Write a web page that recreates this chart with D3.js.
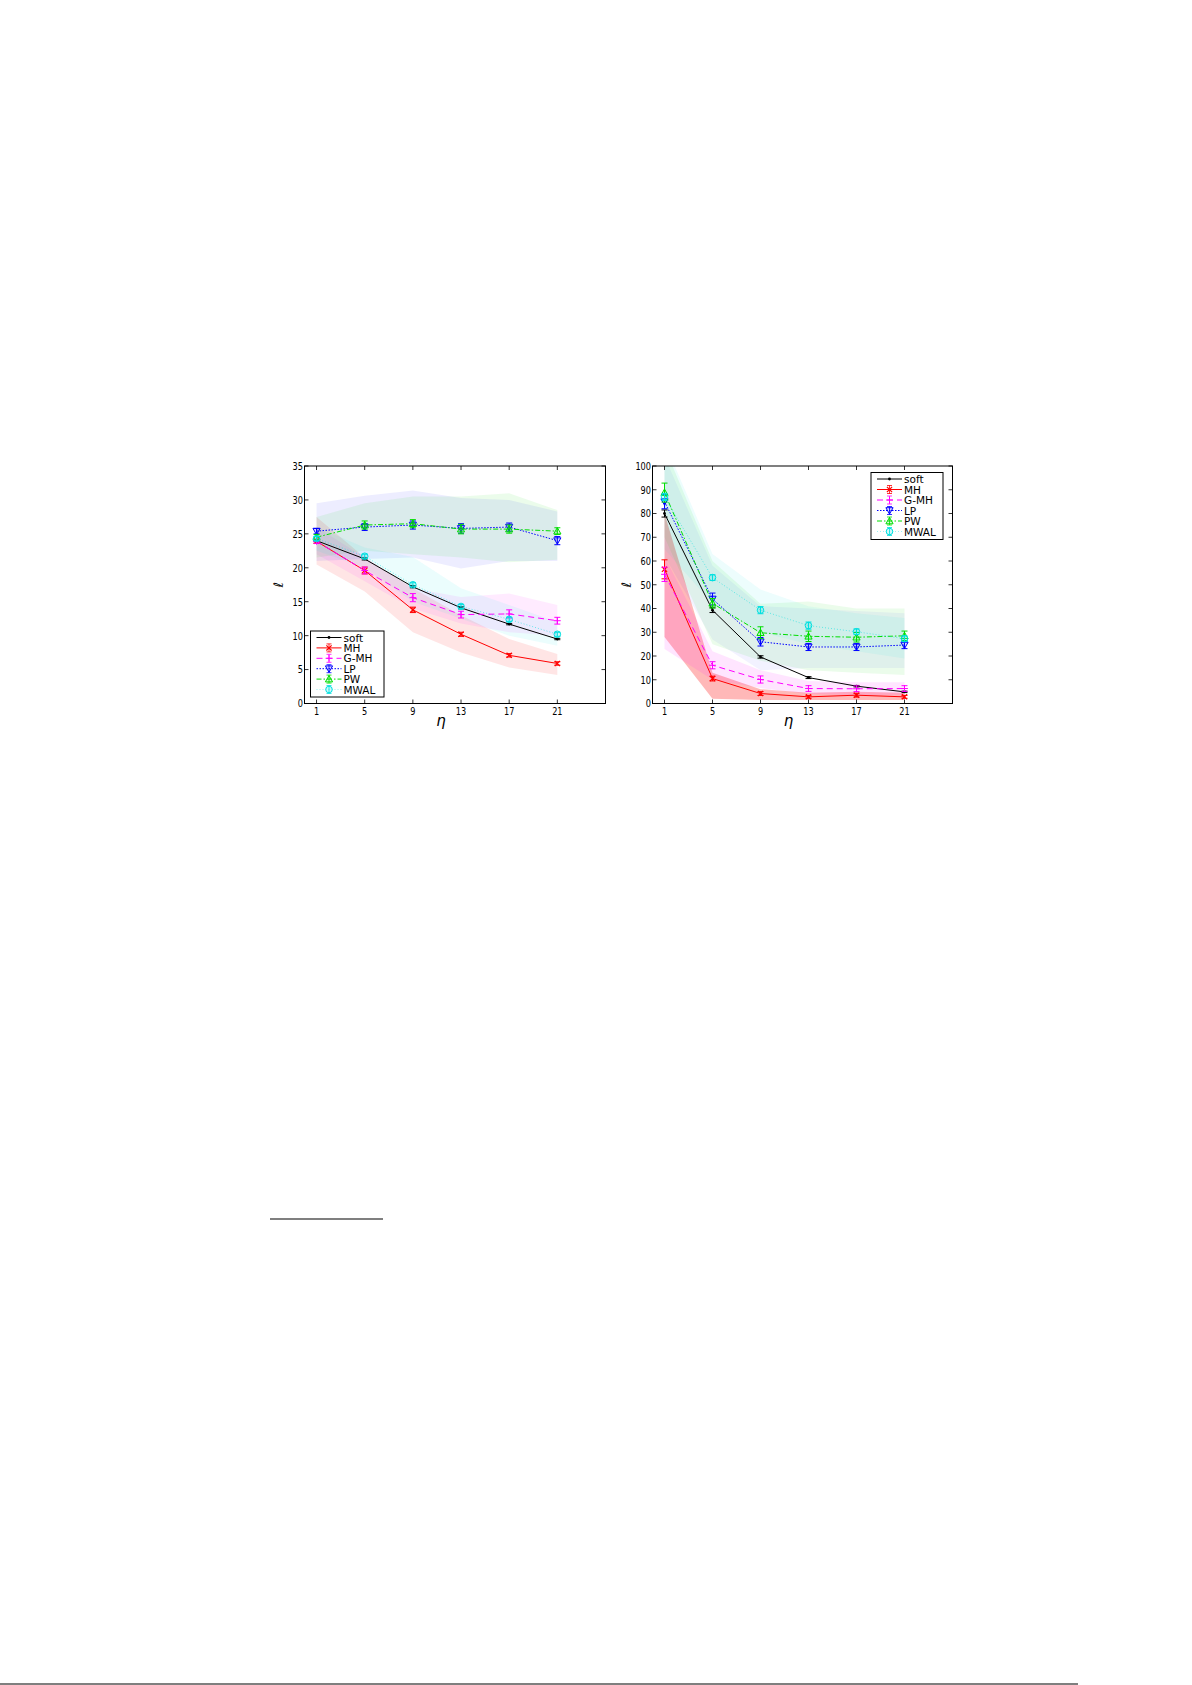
<!DOCTYPE html>
<html>
<head>
<meta charset="utf-8">
<script src="https://cdn.jsdelivr.net/npm/d3@7"></script>
<style>
  body { margin: 0; background: #fff; }
  svg { display: block; }
</style>
</head>
<body>
<div class="page"></div>
<script>
// eta values shared by both panels
const etas = [1, 5, 9, 13, 17, 21];
const seriesNames = ["soft", "MH", "G-MH", "LP", "PW", "MWAL"];
const leftYTicks = [0, 5, 10, 15, 20, 25, 30, 35];
const rightYTicks = [0, 10, 20, 30, 40, 50, 60, 70, 80, 90, 100];

// left panel: means, error bars, shaded band low / high
const leftSoft = [24.0, 21.3, 17.2, 14.1, 11.7, 9.5];
const leftSoftErr = [0.15, 0.15, 0.15, 0.15, 0.1, 0.1];
const leftMH = [23.9, 19.6, 13.8, 10.2, 7.1, 5.9];
const leftMHErr = [0.3, 0.5, 0.4, 0.3, 0.25, 0.25];
const leftMHLo = [20.5, 16.5, 10.5, 7.5, 5.3, 4.2];
const leftMHHi = [27.5, 21.5, 17.0, 13.0, 9.5, 7.3];
const leftGMH = [23.9, 19.6, 15.6, 13.1, 13.2, 12.2];
const leftGMHErr = [0.3, 0.5, 0.6, 0.5, 0.6, 0.5];
const leftGMHLo = [22.0, 18.0, 14.0, 11.8, 10.5, 10.0];
const leftGMHHi = [26.0, 21.5, 17.0, 15.7, 16.2, 14.5];
const leftLP = [25.4, 26.0, 26.3, 25.8, 26.0, 24.0];
const leftLPErr = [0.4, 0.5, 0.6, 0.7, 0.6, 0.6];
const leftLPLo = [21.0, 21.3, 21.5, 19.9, 21.0, 21.0];
const leftLPHi = [29.5, 30.6, 31.4, 30.3, 30.0, 28.3];
const leftPW = [24.5, 26.3, 26.5, 25.7, 25.7, 25.4];
const leftPWErr = [0.4, 0.6, 0.6, 0.7, 0.6, 0.5];
const leftPWLo = [21.5, 22.5, 22.0, 21.5, 20.8, 21.2];
const leftPWHi = [27.5, 29.5, 30.5, 30.5, 31.0, 28.5];
const leftMWAL = [24.3, 21.7, 17.5, 14.3, 12.4, 10.2];
const leftMWALErr = [0.3, 0.3, 0.3, 0.3, 0.3, 0.3];
const leftMWALLo = [22.5, 20.0, 15.0, 12.5, 10.0, 8.5];
const leftMWALHi = [26.0, 23.0, 21.6, 17.0, 14.5, 12.0];

// right panel
const rightSoft = [80.0, 39.3, 19.6, 10.9, 7.3, 4.9];
const rightSoftErr = [1.5, 1.0, 0.5, 0.4, 0.3, 0.3];
const rightMH = [56.5, 10.5, 4.2, 2.8, 3.5, 2.8];
const rightMHErr = [4.0, 1.0, 0.8, 0.6, 0.8, 0.6];
const rightMHLo = [28, 2, 1.5, 1.5, 1.5, 1.5];
const rightMHHi = [80, 13, 6, 4.5, 5, 4.5];
const rightGMH = [54.4, 16.1, 10.1, 6.3, 6.2, 6.3];
const rightGMHErr = [3.0, 1.5, 1.5, 1.2, 1.2, 1.2];
const rightGMHLo = [23, 10, 6.5, 4, 3.5, 3.5];
const rightGMHHi = [62, 22, 14, 9.5, 9, 9];
const rightLP = [85.0, 44.0, 26.0, 23.8, 23.8, 24.6];
const rightLPErr = [3.0, 2.5, 1.8, 1.5, 1.5, 1.5];
const rightLPLo = [62, 27, 14, 15, 15, 15];
const rightLPHi = [104, 58, 41, 40, 39, 38];
const rightPW = [88.8, 42.2, 29.8, 28.3, 27.9, 28.5];
const rightPWErr = [4.0, 2.0, 2.5, 2.2, 2.0, 2.0];
const rightPWLo = [70, 25, 18, 14, 13, 12];
const rightPWHi = [108, 60, 42, 43, 40, 40];
const rightMWAL = [87.0, 53.0, 39.3, 32.8, 30.2, 27.3];
const rightMWALErr = [1.5, 1.2, 1.5, 1.5, 1.2, 1.2];
const rightMWALLo = [65, 42, 30, 25, 22, 19];
const rightMWALHi = [110, 63, 48, 41, 38, 36];

// line / marker styles per series
const styles = [
  { color: "#000000", dash: null, marker: "dot" },
  { color: "#ff0000", dash: null, marker: "x" },
  { color: "#ff00ff", dash: "6,4", marker: "+" },
  { color: "#0000ff", dash: "1.5,1.5", marker: "v" },
  { color: "#00dd00", dash: "5,2,1.5,2", marker: "^" },
  { color: "#00e0e0", dash: "1,2", marker: "o" }
];

const buildSeries = (means, errs, los, his) =>
  seriesNames.map((name, k) => ({
    name: name,
    style: styles[k],
    points: etas.map((eta, i) => ({
      eta: eta,
      v: means[k][i],
      e: errs[k][i],
      lo: los[k] ? los[k][i] : null,
      hi: his[k] ? his[k][i] : null
    }))
  }));

const leftSeries = buildSeries(
  [leftSoft, leftMH, leftGMH, leftLP, leftPW, leftMWAL],
  [leftSoftErr, leftMHErr, leftGMHErr, leftLPErr, leftPWErr, leftMWALErr],
  [null, leftMHLo, leftGMHLo, leftLPLo, leftPWLo, leftMWALLo],
  [null, leftMHHi, leftGMHHi, leftLPHi, leftPWHi, leftMWALHi]
);
const rightSeries = buildSeries(
  [rightSoft, rightMH, rightGMH, rightLP, rightPW, rightMWAL],
  [rightSoftErr, rightMHErr, rightGMHErr, rightLPErr, rightPWErr, rightMWALErr],
  [null, rightMHLo, rightGMHLo, rightLPLo, rightPWLo, rightMWALLo],
  [null, rightMHHi, rightGMHHi, rightLPHi, rightPWHi, rightMWALHi]
);

const svg = d3
  .select(".page")
  .append("svg")
  .attr("width", 1192)
  .attr("height", 1685);

const drawMarker = (g, m, color) => {
  if (m === "dot") {
    g.append("circle").attr("r", 1.4).attr("fill", color);
  } else if (m === "x") {
    g.append("path").attr("d", "M-2.6,-2.6L2.6,2.6M-2.6,2.6L2.6,-2.6")
      .attr("stroke", color).attr("stroke-width", 1.2);
  } else if (m === "+") {
    g.append("path").attr("d", "M-3.4,0L3.4,0M0,-3.4L0,3.4")
      .attr("stroke", color).attr("stroke-width", 1);
  } else if (m === "v") {
    g.append("path").attr("d", "M-3.6,-2.8L3.6,-2.8L0,3.6Z")
      .attr("stroke", color).attr("stroke-width", 1)
      .attr("fill", color).attr("fill-opacity", 0.15);
  } else if (m === "^") {
    g.append("path").attr("d", "M-3.6,2.8L3.6,2.8L0,-3.6Z")
      .attr("stroke", color).attr("stroke-width", 1)
      .attr("fill", color).attr("fill-opacity", 0.15);
  } else if (m === "o") {
    g.append("circle").attr("r", 3.3)
      .attr("stroke", color).attr("stroke-width", 1)
      .attr("fill", color).attr("fill-opacity", 0.2);
  }
};

const tickFont = "'DejaVu Sans', sans-serif";

const drawPanel = cfg => {
  const x = d3.scaleLinear().domain([0, 25]).range([cfg.x0, cfg.x1]);
  const y = d3.scaleLinear().domain(cfg.yDomain).range([cfg.y1, cfg.y0]);
  const g = svg.append("g").attr("class", cfg.id);

  g.append("clipPath")
    .attr("id", "clip-" + cfg.id)
    .append("rect")
    .attr("x", cfg.x0)
    .attr("y", cfg.y0)
    .attr("width", cfg.x1 - cfg.x0)
    .attr("height", cfg.y1 - cfg.y0);

  const plot = g.append("g").attr("clip-path", "url(#clip-" + cfg.id + ")");

  // shaded bands
  const area = d3
    .area()
    .x(d => x(d.eta))
    .y0(d => y(d.lo))
    .y1(d => y(d.hi));
  cfg.series.forEach((s, k) => {
    if (s.points[0].lo === null) return;
    plot
      .append("path")
      .attr("d", area(s.points))
      .attr("fill", s.style.color)
      .attr("fill-opacity", cfg.bandOpacity[k]);
  });

  const line = d3
    .line()
    .x(d => x(d.eta))
    .y(d => y(d.v));

  cfg.series.forEach(s => {
    plot
      .append("path")
      .attr("d", line(s.points))
      .attr("fill", "none")
      .attr("stroke", s.style.color)
      .attr("stroke-width", s.name === "MWAL" ? 0.8 : 1)
      .attr("stroke-opacity", s.name === "MWAL" ? 0.7 : 1)
      .attr("stroke-dasharray", s.style.dash);

    // error bars
    const eb = plot.append("g").attr("stroke", s.style.color).attr("stroke-width", 1);
    s.points.forEach(p => {
      const cx = x(p.eta);
      const ya = y(p.v - p.e);
      const yb = y(p.v + p.e);
      eb.append("line").attr("x1", cx).attr("x2", cx).attr("y1", ya).attr("y2", yb);
      eb.append("line").attr("x1", cx - 3).attr("x2", cx + 3).attr("y1", ya).attr("y2", ya);
      eb.append("line").attr("x1", cx - 3).attr("x2", cx + 3).attr("y1", yb).attr("y2", yb);
    });

    s.points.forEach(p => {
      const mg = plot
        .append("g")
        .attr("transform", "translate(" + x(p.eta) + "," + y(p.v) + ")");
      drawMarker(mg, s.style.marker, s.style.color);
    });
  });

  // frame
  g.append("rect")
    .attr("x", cfg.x0)
    .attr("y", cfg.y0)
    .attr("width", cfg.x1 - cfg.x0)
    .attr("height", cfg.y1 - cfg.y0)
    .attr("fill", "none")
    .attr("stroke", "#000")
    .attr("stroke-width", 1);

  // ticks, inward on all four sides
  const ticks = g.append("g").attr("stroke", "#000").attr("stroke-width", 0.8);
  etas.forEach(t => {
    ticks.append("line").attr("x1", x(t)).attr("x2", x(t)).attr("y1", cfg.y1).attr("y2", cfg.y1 - 4);
    ticks.append("line").attr("x1", x(t)).attr("x2", x(t)).attr("y1", cfg.y0).attr("y2", cfg.y0 + 4);
  });
  cfg.yTicks.forEach(t => {
    ticks.append("line").attr("x1", cfg.x0).attr("x2", cfg.x0 + 4).attr("y1", y(t)).attr("y2", y(t));
    ticks.append("line").attr("x1", cfg.x1).attr("x2", cfg.x1 - 4).attr("y1", y(t)).attr("y2", y(t));
  });

  g.selectAll(".xlab")
    .data(etas)
    .enter()
    .append("text")
    .attr("x", d => x(d))
    .attr("y", cfg.y1 + 11)
    .attr("text-anchor", "middle")
    .attr("font-family", tickFont)
    .attr("font-size", 11)
    .attr("textLength", d => String(d).length * 5.2)
    .attr("lengthAdjust", "spacingAndGlyphs")
    .text(d => d);

  g.selectAll(".ylab")
    .data(cfg.yTicks)
    .enter()
    .append("text")
    .attr("x", cfg.x0 - 1.5)
    .attr("y", d => y(d) + 3.9)
    .attr("text-anchor", "end")
    .attr("font-family", tickFont)
    .attr("font-size", 11)
    .attr("textLength", d => String(d).length * 5.2)
    .attr("lengthAdjust", "spacingAndGlyphs")
    .text(d => d);

  g.append("text")
    .attr("x", (cfg.x0 + cfg.x1) / 2 - 14)
    .attr("y", cfg.y1 + 22)
    .attr("text-anchor", "middle")
    .attr("font-family", tickFont)
    .attr("font-style", "italic")
    .attr("font-size", 15)
    .text("η");

  g.append("text")
    .attr("transform", "translate(" + (cfg.x0 - 22) + "," + ((cfg.y0 + cfg.y1) / 2) + ") rotate(-90)")
    .attr("text-anchor", "middle")
    .attr("font-family", tickFont)
    .attr("font-style", "italic")
    .attr("font-size", 13)
    .text("ℓ");

  // legend
  const lg = g.append("g");
  lg.append("rect")
    .attr("x", cfg.legend.x)
    .attr("y", cfg.legend.y)
    .attr("width", cfg.legend.w)
    .attr("height", cfg.legend.h)
    .attr("fill", "#fff")
    .attr("stroke", "#000")
    .attr("stroke-width", 1);
  cfg.series.forEach((s, k) => {
    const ry = cfg.legend.row0 + k * cfg.legend.step;
    const lx0 = cfg.legend.x + 6;
    const lx1 = cfg.legend.x + 31;
    const mx = (lx0 + lx1) / 2;
    lg.append("line")
      .attr("x1", lx0).attr("x2", lx1).attr("y1", ry).attr("y2", ry)
      .attr("stroke", s.style.color)
      .attr("stroke-width", s.name === "MWAL" ? 0.8 : 1)
      .attr("stroke-opacity", s.name === "MWAL" ? 0.5 : 1)
      .attr("stroke-dasharray", s.style.dash);
    if (s.name !== "soft") {
      lg.append("path")
        .attr("d", "M" + mx + "," + (ry - 4) + "L" + mx + "," + (ry + 4) +
          "M" + (mx - 2.5) + "," + (ry - 4) + "L" + (mx + 2.5) + "," + (ry - 4) +
          "M" + (mx - 2.5) + "," + (ry + 4) + "L" + (mx + 2.5) + "," + (ry + 4))
        .attr("stroke", s.style.color)
        .attr("stroke-width", 0.8)
        .attr("fill", "none");
    }
    drawMarker(lg.append("g").attr("transform", "translate(" + mx + "," + ry + ")"), s.style.marker, s.style.color);
    lg.append("text")
      .attr("x", lx1 + 2)
      .attr("y", ry + 4)
      .attr("font-family", tickFont)
      .attr("font-size", 10.5)
      .text(s.name);
  });
};

drawPanel({
  id: "left",
  x0: 304.5, x1: 605.5, y0: 466, y1: 703.5,
  yDomain: [0, 35],
  yTicks: leftYTicks,
  series: leftSeries,
  bandOpacity: [0, 0.1, 0.08, 0.07, 0.08, 0.08],
  legend: { x: 310.5, y: 631, w: 73.5, h: 66, row0: 637.5, step: 10.4 }
});

drawPanel({
  id: "right",
  x0: 652.5, x1: 952.5, y0: 466, y1: 703.5,
  yDomain: [0, 100],
  yTicks: rightYTicks,
  series: rightSeries,
  bandOpacity: [0, 0.28, 0.1, 0.05, 0.08, 0.07],
  legend: { x: 871, y: 472.5, w: 72, h: 67, row0: 479, step: 10.5 }
});

// footnote rule and page rule
svg.append("line")
  .attr("x1", 270).attr("x2", 383).attr("y1", 1219).attr("y2", 1219)
  .attr("stroke", "#000").attr("stroke-width", 1.2);
svg.append("line")
  .attr("x1", 0).attr("x2", 1078).attr("y1", 1684).attr("y2", 1684)
  .attr("stroke", "#000").attr("stroke-width", 1.2);
</script>
</body>
</html>
